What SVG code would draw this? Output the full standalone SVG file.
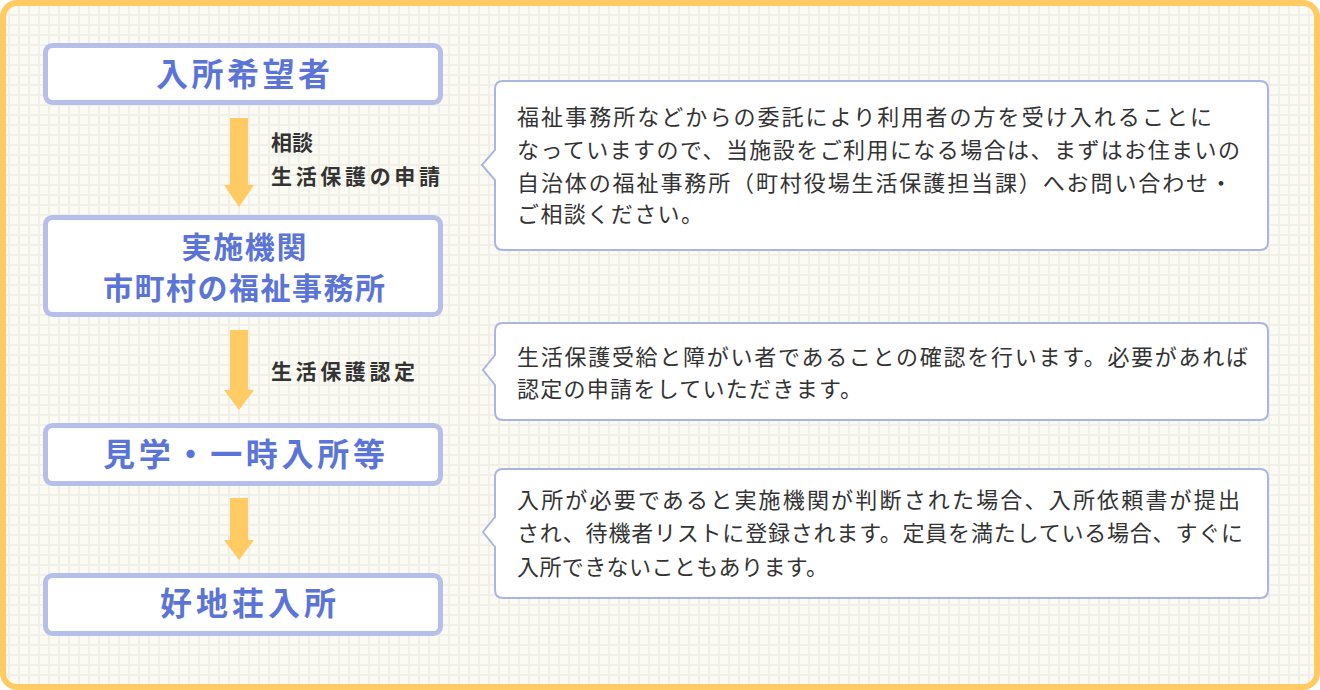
<svg xmlns="http://www.w3.org/2000/svg" width="1320" height="690" viewBox="0 0 1320 690">
<defs>
<pattern id="grid" x="0" y="0" width="10" height="10" patternUnits="userSpaceOnUse">
<rect width="10" height="10" fill="#fbfbf4"/>
<rect x="8" y="0" width="2" height="10" fill="#f0f0e9"/>
<rect x="0" y="4" width="10" height="2" fill="#f0f0e9"/>
</pattern>
<style>
.node rect{fill:#ffffff;stroke:#b5bfe9;stroke-width:5}
.node text{font-family:"Noto Sans CJK JP","Noto Sans CJK SC",sans-serif;font-size:32px;font-weight:bold;fill:#5b74d8;text-anchor:middle}
.node text.two{font-size:30px}
.arrow{fill:#ffcb62}
.lbl{font-family:"Noto Sans CJK JP","Noto Sans CJK SC",sans-serif;font-size:21px;font-weight:bold;fill:#333333}
.callout path{fill:#ffffff;stroke:#a9b5e6;stroke-width:2}
.callout text{font-family:"Noto Sans CJK JP","Noto Sans CJK SC",sans-serif;font-size:22px;fill:#333333}
</style>
</defs>
<rect x="0" y="0" width="1320" height="690" fill="#ffffff"/>
<rect x="3" y="3" width="1314" height="684" rx="14" fill="url(#grid)" stroke="#ffcb62" stroke-width="6"/>

<g id="connectors">
<path class="arrow" d="M230 118 H248 V185 H254 L239 207 L224 185 H230 Z"/>
<path class="arrow" d="M230 330 H248 V390 H254 L239 410 L224 390 H230 Z"/>
<path class="arrow" d="M230 498 H248 V540 H254 L239 560 L224 540 H230 Z"/>
<text class="lbl" x="271" y="150">相談</text>
<text class="lbl" x="271" y="184" textLength="169" lengthAdjust="spacing">生活保護の申請</text>
<text class="lbl" x="271" y="379" textLength="144" lengthAdjust="spacing">生活保護認定</text>
</g>

<g id="node-1" class="node">
<rect x="45.5" y="45.5" width="395" height="57" rx="7"/>
<text x="243" y="86" textLength="174" lengthAdjust="spacing">入所希望者</text>
</g>
<g id="node-2" class="node">
<rect x="45.5" y="217.5" width="395" height="97" rx="7"/>
<text class="two" x="244" y="258" textLength="125" lengthAdjust="spacing">実施機関</text>
<text class="two" x="244" y="299" textLength="282" lengthAdjust="spacing">市町村の福祉事務所</text>
</g>
<g id="node-3" class="node">
<rect x="45.5" y="425.5" width="395" height="58" rx="7"/>
<text x="244" y="466" textLength="282" lengthAdjust="spacing">見学・一時入所等</text>
</g>
<g id="node-4" class="node">
<rect x="45.5" y="575.5" width="395" height="58" rx="7"/>
<text x="248" y="615" textLength="176" lengthAdjust="spacing">好地荘入所</text>
</g>

<g id="callout-1" class="callout">
<path d="M503 81 H1260 Q1268 81 1268 89 V242 Q1268 250 1260 250 H503 Q495 250 495 242 V180 L482 165 L495 150 V89 Q495 81 503 81 Z"/>
<text x="517" y="125" textLength="695" lengthAdjust="spacing">福祉事務所などからの委託により利用者の方を受け入れることに</text>
<text x="517" y="158" textLength="723" lengthAdjust="spacing">なっていますので、当施設をご利用になる場合は、まずはお住まいの</text>
<text x="517" y="191" textLength="715" lengthAdjust="spacing">自治体の福祉事務所（町村役場生活保護担当課）へお問い合わせ・</text>
<text x="517" y="222" textLength="186" lengthAdjust="spacing">ご相談ください。</text>
</g>
<g id="callout-2" class="callout">
<path d="M503 323 H1260 Q1268 323 1268 331 V412 Q1268 420 1260 420 H503 Q495 420 495 412 V385 L483 370 L495 355 V331 Q495 323 503 323 Z"/>
<text x="517" y="365" textLength="731" lengthAdjust="spacing">生活保護受給と障がい者であることの確認を行います。必要があれば</text>
<text x="517" y="397" textLength="345" lengthAdjust="spacing">認定の申請をしていただきます。</text>
</g>
<g id="callout-3" class="callout">
<path d="M503 469 H1260 Q1268 469 1268 477 V590 Q1268 598 1260 598 H503 Q495 598 495 590 V547 L483 532 L495 517 V477 Q495 469 503 469 Z"/>
<text x="517" y="508" textLength="723" lengthAdjust="spacing">入所が必要であると実施機関が判断された場合、入所依頼書が提出</text>
<text x="517" y="541" textLength="726" lengthAdjust="spacing">され、待機者リストに登録されます。定員を満たしている場合、すぐに</text>
<text x="517" y="575" textLength="311" lengthAdjust="spacing">入所できないこともあります。</text>
</g>
</svg>
